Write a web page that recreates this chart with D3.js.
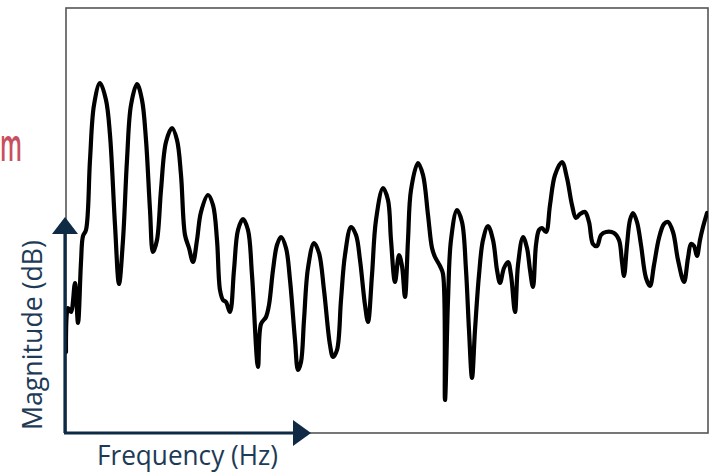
<!DOCTYPE html>
<html>
<head>
<meta charset="utf-8">
<script src="https://cdn.jsdelivr.net/npm/d3@7"></script>
<style>
  html, body { margin: 0; padding: 0; background: #fff; }
  svg { display: block; }
</style>
</head>
<body>
<svg id="chart" width="717" height="476"></svg>
<script>
// Frequency (Hz) samples and magnitude (dB) values
const frequency = [0,2,5,9,12,15,17,20,24,28,34,40,44,49,53,57,61,65,71,76,80,84,87,91,95,100,106,111,115,119,123,127,131,135,142,147,151,154,157,160,164,168,172,177,182,186,192,195,200,203,207,211,215,220,224,229,232,235,238,242,248,253,258,264,267,271,275,279,285,290,294,299,302,306,310,317,322,325,329,333,336,339,342,345,352,357,362,366,369,374,377,379,382,385,391,396,400,403,406,409,413,417,422,427,431,434,438,442,445,449,452,457,461,464,467,470,473,476,480,484,489,496,501,506,510,514,519,523,527,531,535,540,548,553,556,558,561,564,567,571,575,580,584,588,593,598,602,607,612,618,622,625,628,631,634,637,641];
const magnitude = [16.2,25,24.2,30,22,34.2,39.4,40.6,54.6,65.6,70,66.6,59.6,41.6,29.8,38.6,54.6,65.6,69.8,66.6,58.6,44.6,36.2,38.6,48.6,58.2,61,58.6,51.6,39.6,37,34.2,38.6,44.2,47.6,45.6,38.6,28.6,26.6,26.2,24.2,32.6,40.6,42.8,40.6,31.6,13.2,21.8,23.2,25.6,32.6,37.6,39.2,37,30.6,18.6,12.6,14.2,22.6,33,38,36,28.6,17.6,15.2,16.6,26.6,35.6,41.2,39.6,34.6,25.6,22.2,31.6,42.6,49,46.6,38.6,30.2,35.6,33.4,27.2,38.6,48.6,54,51.6,43.6,37,35.2,33.4,31.8,6.6,26.6,38.6,44.6,42.2,32.6,20.6,11,20.6,31.6,38.6,41.4,38.6,32.6,30,33,34.2,31.6,24.2,33.6,39.2,37,32.6,29.2,37.6,40.6,41,40.2,45.6,51.6,54.2,51,45.6,43,43.8,44.2,42.2,37.8,37.4,39.6,40.2,40,38.6,34.2,31.4,37.6,42.6,44,42.2,37.6,31,29.4,33.6,39,41.8,42.2,40.2,34.6,30.2,35,37.8,37.4,35.4,38.6,41.2,44];
const freqDomain = [0, 642];
const magDomain = [0, 85];
const xLabel = "Frequency (Hz)";
const yLabel = "Magnitude (dB)";
const titleFragment = "m";

(function () {
const svg = d3.select("#chart");
const pl = 66, pr = 708, pt = 8, pb = 433;
const navy = "#0e2a45";

const x = d3.scaleLinear().domain(freqDomain).range([pl, pr]);
const y = d3.scaleLinear().domain(magDomain).range([pb, pt]);

const data = frequency.map((f, i) => ({ f, m: magnitude[i] }));

// frame
svg.append("rect")
  .attr("x", pl).attr("y", pt)
  .attr("width", pr - pl).attr("height", pb - pt)
  .attr("fill", "none").attr("stroke", "#555").attr("stroke-width", 1.6);

svg.append("defs").append("clipPath").attr("id", "clip")
  .append("rect").attr("x", pl).attr("y", pt)
  .attr("width", pr - pl).attr("height", pb - pt);

// spectrum line
const line = d3.line()
  .x(d => x(d.f)).y(d => y(d.m))
  .curve(d3.curveCatmullRom.alpha(0.5));

svg.append("path")
  .datum(data)
  .attr("clip-path", "url(#clip)")
  .attr("d", line)
  .attr("fill", "none")
  .attr("stroke", "#000")
  .attr("stroke-width", 4.2)
  .attr("stroke-linejoin", "round")
  .attr("stroke-linecap", "round");

// axis arrows
svg.append("line")
  .attr("x1", 65).attr("y1", pb).attr("x2", 65).attr("y2", 230)
  .attr("stroke", navy).attr("stroke-width", 3.2);
svg.append("path")
  .attr("d", "M65,217 L78,234 L52,234 Z")
  .attr("fill", navy);

svg.append("line")
  .attr("x1", 64).attr("y1", 433).attr("x2", 296).attr("y2", 433)
  .attr("stroke", navy).attr("stroke-width", 3.2);
svg.append("path")
  .attr("d", "M311,433 L293,420 L293,446 Z")
  .attr("fill", navy);

// labels
svg.append("text")
  .attr("transform", "translate(42,335) rotate(-90)")
  .attr("text-anchor", "middle")
  .attr("font-family", "'Open Sans', sans-serif")
  .attr("font-size", 28)
  .attr("fill", "#1d3a57")
  .attr("textLength", 190)
  .attr("lengthAdjust", "spacingAndGlyphs")
  .text(yLabel);

svg.append("text")
  .attr("x", 187.5).attr("y", 465)
  .attr("text-anchor", "middle")
  .attr("font-family", "'Open Sans', sans-serif")
  .attr("font-size", 28)
  .attr("fill", "#1d3a57")
  .attr("textLength", 181)
  .attr("lengthAdjust", "spacingAndGlyphs")
  .text(xLabel);

svg.append("text")
  .attr("x", 0).attr("y", 161)
  .attr("font-family", "'Open Sans', sans-serif")
  .attr("font-size", 46)
  .attr("font-weight", 600)
  .attr("fill", "#c94f5f")
  .attr("textLength", 22)
  .attr("lengthAdjust", "spacingAndGlyphs")
  .text(titleFragment);
})();
</script>
</body>
</html>
